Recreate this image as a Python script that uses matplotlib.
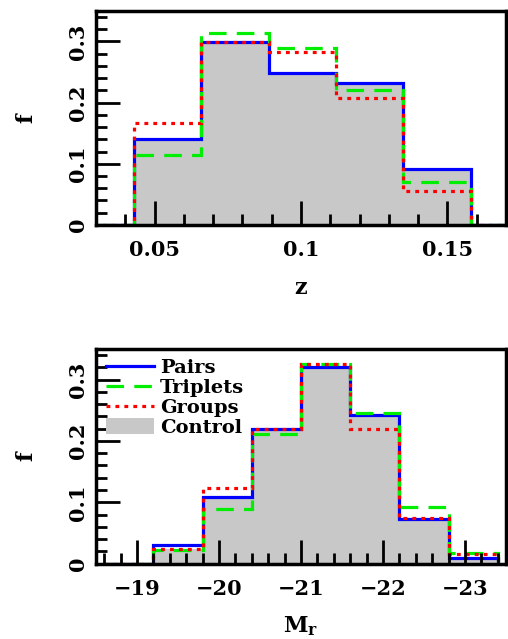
import numpy as np
import matplotlib
matplotlib.use('Agg')
import matplotlib.pyplot as plt
from matplotlib.patches import Patch
from matplotlib.lines import Line2D
from matplotlib.ticker import MultipleLocator

# redshift histograms
z_edges = [0.020, 0.043, 0.066, 0.089, 0.112, 0.135, 0.158, 0.181]
z_control = [0.0, 0.137, 0.296, 0.246, 0.229, 0.089, 0.0]
z_pairs = [0.0, 0.141, 0.299, 0.248, 0.232, 0.092, 0.0]
z_triplets = [0.0, 0.115, 0.313, 0.289, 0.221, 0.070, 0.0]
z_groups = [0.0, 0.167, 0.299, 0.282, 0.207, 0.055, 0.0]

# absolute magnitude histograms
m_edges = [-18.6, -19.2, -19.8, -20.4, -21.0, -21.6, -22.2, -22.8, -23.4]
m_control = [0.0, 0.024, 0.105, 0.216, 0.318, 0.241, 0.070, 0.006]
m_pairs = [0.0, 0.030, 0.109, 0.219, 0.321, 0.243, 0.072, 0.009]
m_triplets = [0.0, 0.022, 0.089, 0.212, 0.325, 0.246, 0.092, 0.017]
m_groups = [0.0, 0.024, 0.124, 0.219, 0.325, 0.219, 0.075, 0.015]

f_ticks = [0, 0.1, 0.2, 0.3]
f_labels = ['0', '0.1', '0.2', '0.3']

plt.rcParams['font.family'] = 'DejaVu Serif'
plt.rcParams['font.weight'] = 'bold'
plt.rcParams['mathtext.fontset'] = 'dejavuserif'

fig = plt.figure(figsize=(5.08, 6.39), dpi=100)
ax1 = fig.add_axes([0.189, 0.648, 0.807, 0.335])
ax2 = fig.add_axes([0.189, 0.118, 0.807, 0.336])

lw = 2.3
dash = (0, (5.5, 3.2))
dots = (0, (1.2, 1.6))


def draw(ax, edges, ctrl, pairs, trip, grp):
    ax.stairs(ctrl, edges, fill=True, color='#c8c8c8', lw=0)
    ax.stairs(pairs, edges, color='blue', lw=lw)
    ax.stairs(trip, edges, color='#00ee00', lw=lw, linestyle=dash)
    ax.stairs(grp, edges, color='red', lw=lw, linestyle=dots)
    ax.set_ylim(0, 0.35)
    ax.set_yticks(f_ticks)
    ax.set_yticklabels(f_labels, rotation=90, va='center')
    ax.yaxis.set_minor_locator(MultipleLocator(0.02))
    ax.tick_params(which='both', direction='in', top=False, right=False,
                   width=2, labelsize=15)
    ax.tick_params(which='major', length=17, pad=6)
    ax.tick_params(axis='x', which='major', pad=11)
    ax.tick_params(which='minor', length=8)
    for s in ax.spines.values():
        s.set_linewidth(2.5)
    ax.set_ylabel('f', fontsize=16, fontweight='bold', labelpad=22)


draw(ax1, z_edges, z_control, z_pairs, z_triplets, z_groups)
ax1.set_xlim(0.03, 0.17)
ax1.set_xticks([0.05, 0.1, 0.15])
ax1.set_xticklabels(['0.05', '0.1', '0.15'])
ax1.xaxis.set_minor_locator(MultipleLocator(0.01))
ax1.set_xlabel('z', fontsize=16, fontweight='bold', labelpad=12)

draw(ax2, m_edges, m_control, m_pairs, m_triplets, m_groups)
ax2.set_xlim(-18.5, -23.5)
ax2.set_xticks([-19, -20, -21, -22, -23])
ax2.set_xticklabels(['\u221219', '\u221220', '\u221221', '\u221222', '\u221223'])
ax2.xaxis.set_minor_locator(MultipleLocator(0.2))
ax2.set_xlabel(r'$\mathbf{M_r}$', fontsize=16, labelpad=11)

handles = [Line2D([], [], color='blue', lw=lw),
           Line2D([], [], color='#00ee00', lw=lw, linestyle=dash),
           Line2D([], [], color='red', lw=lw, linestyle=dots),
           Patch(facecolor='#c8c8c8', edgecolor='none')]
ax2.legend(handles, ['Pairs', 'Triplets', 'Groups', 'Control'],
           loc='upper left', frameon=False,
           handlelength=2.5, handleheight=0.9, handletextpad=0.3,
           labelspacing=0.05, borderaxespad=0.1,
           prop={'weight': 'bold', 'size': 14})

fig.savefig('out.png', dpi=100)
